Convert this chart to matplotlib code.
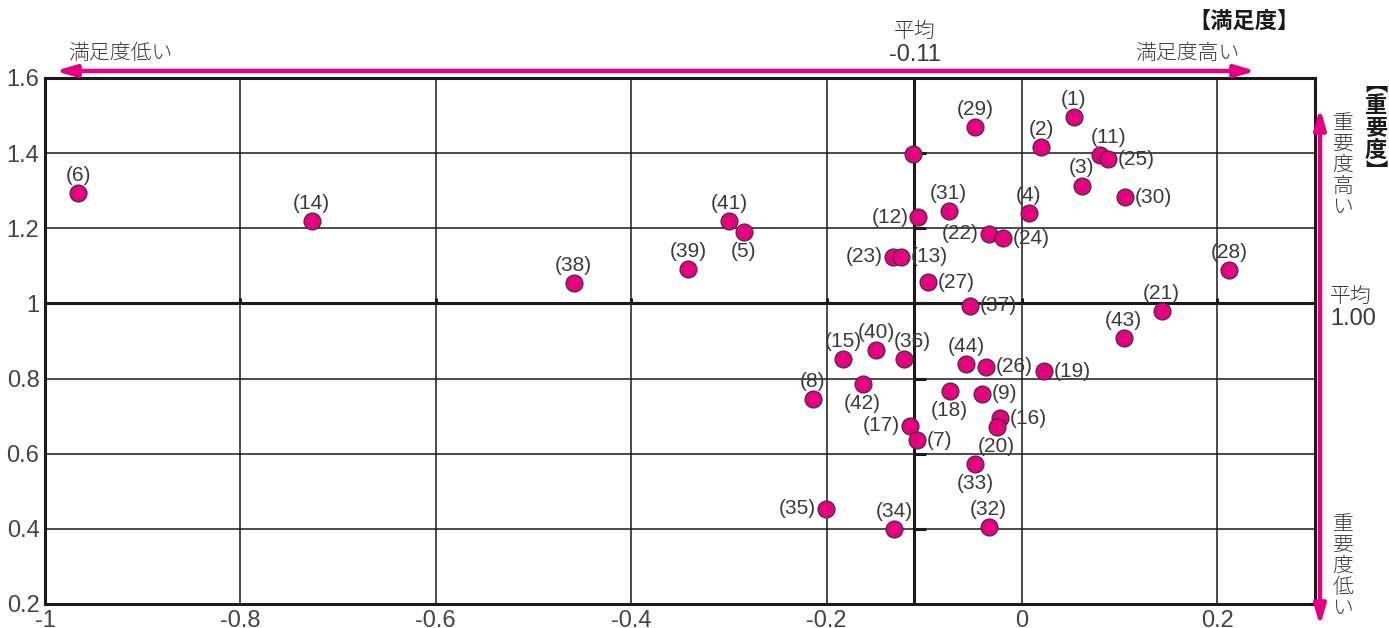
import matplotlib
matplotlib.use('Agg')
import matplotlib.pyplot as plt
from matplotlib import font_manager

# data
ids = [1, 29, 2, None, 11, 25, 3, 30, 31, 4, 12, 22, 24, 41, 5, 39, 38, 14, 6, 28,
       21, 43, 23, 13, 27, 37, 15, 40, 36, 44, 26, 19, 8, 42, 18, 9, 16, 20, 17, 7,
       33, 35, 34, 32]
satisfaction = [0.053, -0.048, 0.020, -0.112, 0.080, 0.088, 0.061, 0.106, -0.075, 0.007,
                -0.106, -0.034, -0.019, -0.300, -0.285, -0.342, -0.459, -0.727, -0.966, 0.212,
                0.143, 0.104, -0.132, -0.124, -0.096, -0.053, -0.183, -0.149, -0.121, -0.057,
                -0.037, 0.023, -0.214, -0.163, -0.074, -0.041, -0.022, -0.026, -0.115, -0.107,
                -0.048, -0.201, -0.131, -0.034]
importance = [1.496, 1.470, 1.416, 1.397, 1.395, 1.384, 1.313, 1.283, 1.245, 1.240,
              1.230, 1.186, 1.174, 1.219, 1.190, 1.092, 1.054, 1.219, 1.294, 1.089,
              0.980, 0.908, 1.124, 1.124, 1.057, 0.994, 0.852, 0.876, 0.852, 0.839,
              0.831, 0.820, 0.746, 0.786, 0.766, 0.760, 0.695, 0.670, 0.674, 0.636,
              0.573, 0.453, 0.399, 0.404]
x_mean = -0.11
y_mean = 1.00
x_ticks = [-1, -0.8, -0.6, -0.4, -0.2, 0, 0.2]
y_ticks = [0.2, 0.4, 0.6, 0.8, 1, 1.2, 1.4, 1.6]

# where each label sits relative to its point
label_pos = {1: 'above', 29: 'above', 2: 'above', 11: 'above_r', 25: 'right', 3: 'above',
             30: 'right', 31: 'above', 4: 'above', 12: 'left', 22: 'left', 24: 'right',
             41: 'above', 5: 'below', 39: 'above', 38: 'above', 14: 'above', 6: 'above',
             28: 'above', 21: 'above', 43: 'above', 23: 'left', 13: 'right', 27: 'right',
             37: 'right', 15: 'above', 40: 'above', 36: 'above_r', 44: 'above', 26: 'right',
             19: 'right', 8: 'above', 42: 'below', 18: 'below', 9: 'right', 16: 'right',
             20: 'below', 17: 'left', 7: 'right', 33: 'below', 35: 'left', 34: 'above',
             32: 'above'}
offsets = {'above': (0, 6, 'center', 'bottom'), 'above_r': (6, 6, 'center', 'bottom'),
           'below': (0, -7, 'center', 'top'),
           'left': (-7, 0, 'right', 'center'), 'right': (7, 0, 'left', 'center')}

names = {f.name for f in font_manager.fontManager.ttflist}
num_font = 'Liberation Sans Narrow' if 'Liberation Sans Narrow' in names else 'Liberation Sans'
jp = ['Noto Sans CJK JP', 'DejaVu Sans']
MAG = '#E4007F'
TXT = '#3a3a3a'

fig = plt.figure(figsize=(13.89, 6.28), dpi=100)
ax = fig.add_axes([45/1389, 24/628, 1270/1389, 526/628])
ax.set_xlim(-1, 0.3)
ax.set_ylim(0.2, 1.6)
ax.set_xticks(x_ticks)
ax.set_yticks(y_ticks)
ax.set_xticklabels([f'{v:g}' for v in x_ticks])
ax.set_yticklabels([f'{v:g}' for v in y_ticks])
ax.tick_params(length=0, pad=4, labelsize=17, colors='#444444')
for lab in ax.get_xticklabels() + ax.get_yticklabels():
    lab.set_family(num_font)
ax.grid(True, color='#1a1a1a', lw=1.1)
ax.set_axisbelow(True)
for s in ax.spines.values():
    s.set_linewidth(2.2)
    s.set_color('#1a1a1a')

ax.axvline(x_mean, color='#1a1a1a', lw=2.2, zorder=1)
ax.axhline(y_mean, color='#1a1a1a', lw=2.2, zorder=1)
ax.hlines(y_ticks[1:-1], x_mean, x_mean + 0.012, color='#1a1a1a', lw=2.2, zorder=1)
ax.vlines(x_ticks[1:], y_mean, y_mean + 0.015, color='#1a1a1a', lw=2.2, zorder=1)

ax.scatter(satisfaction, importance, s=150, color=MAG, edgecolor='#333333',
           linewidth=0.8, zorder=3)
for i, x, y in zip(ids, satisfaction, importance):
    if i is None:
        continue
    dx, dy, ha, va = offsets[label_pos[i]]
    ax.annotate(f'({i})', (x, y), xytext=(dx, dy), textcoords='offset points',
                ha=ha, va=va, fontsize=15, color=TXT, family=num_font, zorder=4)

# magenta arrows
ax.annotate('', xy=(55/1389, 1-71/628), xytext=(1256/1389, 1-71/628),
            xycoords='figure fraction', arrowprops=dict(arrowstyle='<|-|>,head_width=0.35,head_length=1.2',
                                                          color=MAG, lw=3.2, shrinkA=0, shrinkB=0))
ax.annotate('', xy=(1320/1389, 1-108/628), xytext=(1320/1389, 1-626/628),
            xycoords='figure fraction', arrowprops=dict(arrowstyle='<|-|>,head_width=0.35,head_length=1.2',
                                                          color=MAG, lw=3.2, shrinkA=0, shrinkB=0))

def ftext(px, py, s, **kw):
    kw.setdefault('family', jp)
    kw.setdefault('color', TXT)
    kw.setdefault('weight', 300)
    fig.text(px/1389, 1-py/628, s, **kw)

ftext(68, 53, '満足度低い', fontsize=15, ha='left', va='center')
ftext(1240, 53, '満足度高い', fontsize=15, ha='right', va='center')
ftext(915, 31, '平均', fontsize=15, ha='center', va='center')
ftext(915, 55, '-0.11', fontsize=17, ha='center', va='center', family=num_font, weight='normal')
ftext(1300, 21, '【満足度】', fontsize=16, ha='right', va='center', weight='bold', color='#1a1a1a')
ftext(1376, 128, '\n'.join('︻重要度︼'), fontsize=16, ha='center', va='center',
      weight='bold', color='#1a1a1a', linespacing=0.95)
ftext(1343, 165, '\n'.join('重要度高い'), fontsize=15, ha='center', va='center', linespacing=0.95)
ftext(1343, 566, '\n'.join('重要度低い'), fontsize=15, ha='center', va='center', linespacing=0.95)
ftext(1330, 296, '平均', fontsize=15, ha='left', va='center')
ftext(1330, 319, '1.00', fontsize=17, ha='left', va='center', family=num_font, weight='normal')

fig.savefig('out.png', dpi=100)
